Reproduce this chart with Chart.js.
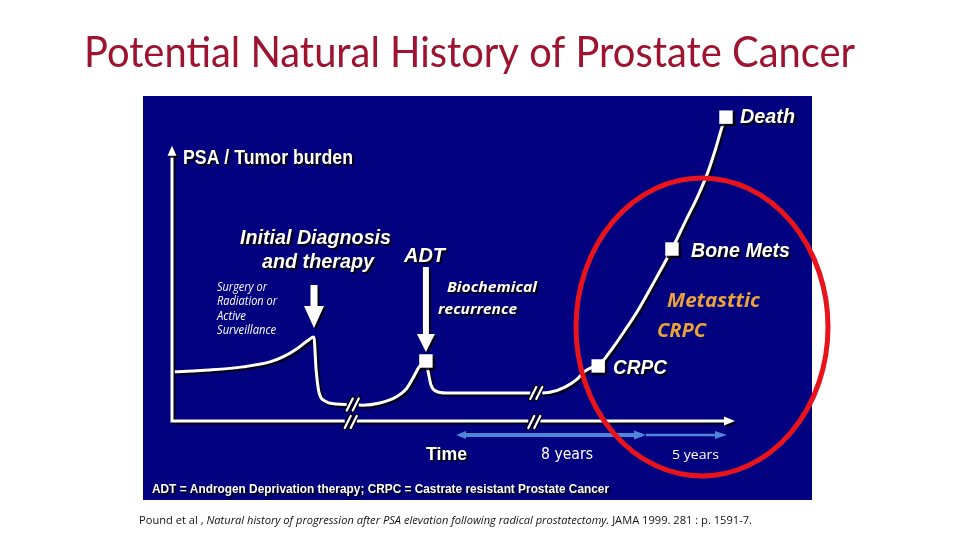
<!DOCTYPE html>
<html>
<head>
<meta charset="utf-8">
<script src="https://cdn.jsdelivr.net/npm/chart.js@4.4.1/dist/chart.umd.min.js"></script>
<style>
  html, body { margin: 0; padding: 0; background: #fff; }
  #wrap { width: 960px; height: 540px; }
</style>
</head>
<body>
<div id="wrap"><canvas id="chart" width="960" height="540"></canvas></div>
<script>
// curve: time (arbitrary units 0-100) vs PSA / tumor burden (arbitrary 0-100)
const timeX = [0.5, 6.7, 12.6, 17.4, 19.7, 22.4, 24.2, 25.2, 25.6, 26.1, 27.2, 29.1, 31.6,
  33.9, 36.9, 39.8, 41.6, 42.8, 43.9, 45.1, 45.5, 46.0, 46.9, 48.7, 54.7, 65.0,
  67.3, 69.8, 71.8, 73.2, 74.3, 75.7, 78.0, 80.5, 82.8, 85.8, 88.8, 91.3, 93.4, 95.2, 96.6, 97.7, 98.4];
const psaY = [15.8, 16.4, 17.4, 19.0, 20.6, 23.5, 26.0, 27.0, 16.4, 9.3, 6.4, 5.5, 5.3,
  5.1, 5.8, 7.7, 10.3, 13.8, 17.4, 19.3, 15.8, 11.6, 9.6, 9.0, 9.0, 9.0,
  9.3, 10.9, 13.2, 15.8, 17.0, 17.7, 22.8, 29.3, 35.7, 45.3, 55.3, 64.6, 72.3, 80.1, 87.8, 94.5, 97.7];

// events marked with squares
const eventLabels = ["ADT", "CRPC", "Bone Mets", "Death"];
const eventX = [45.1, 75.7, 88.8, 98.4];
const eventY = [19.3, 17.7, 55.3, 97.7];

// axis breaks (//) on curve and time axis
const breakX = [32.1, 64.7];
const breakY = [5.3, 9.0];

const NAVY = "#020281";

function fitText(ctx, segs, x, y, width, color, shadow) {
  ctx.save();
  let total = 0;
  segs.forEach(s => { ctx.font = s[1]; total += ctx.measureText(s[0]).width; });
  const k = width ? width / total : 1;
  ctx.translate(x, y);
  ctx.scale(k, 1);
  ctx.fillStyle = color;
  ctx.textBaseline = "alphabetic";
  ctx.textAlign = "left";
  if (shadow) {
    ctx.shadowColor = "rgba(0,0,0,0.9)";
    ctx.shadowOffsetX = 2;
    ctx.shadowOffsetY = 2;
    ctx.shadowBlur = 1;
  }
  let cx = 0;
  segs.forEach(s => {
    ctx.font = s[1];
    ctx.fillText(s[0], cx, 0);
    cx += ctx.measureText(s[0]).width;
  });
  ctx.restore();
}

function downArrow(ctx, x, y0, y1, shaftW, headW, headH) {
  ctx.beginPath();
  ctx.moveTo(x - shaftW / 2, y0);
  ctx.lineTo(x + shaftW / 2, y0);
  ctx.lineTo(x + shaftW / 2, y1 - headH);
  ctx.lineTo(x + headW / 2, y1 - headH);
  ctx.lineTo(x, y1);
  ctx.lineTo(x - headW / 2, y1 - headH);
  ctx.lineTo(x - shaftW / 2, y1 - headH);
  ctx.closePath();
  ctx.fill();
}

function breakMark(ctx, px, py) {
  ctx.save();
  ctx.fillStyle = NAVY;
  ctx.fillRect(px - 6, py - 3, 12, 6);
  [-3, 3].forEach(dx => {
    ctx.beginPath();
    ctx.moveTo(px + dx - 3, py + 6);
    ctx.lineTo(px + dx + 3, py - 6);
    ctx.lineCap = "round";
    ctx.strokeStyle = "#000";
    ctx.lineWidth = 4.5;
    ctx.stroke();
    ctx.strokeStyle = "#fff";
    ctx.lineWidth = 2.2;
    ctx.stroke();
  });
  ctx.restore();
}

const backdrop = {
  id: "backdrop",
  beforeDraw(chart) {
    const ctx = chart.ctx;
    ctx.save();
    ctx.fillStyle = "#fff";
    ctx.fillRect(0, 0, chart.width, chart.height);
    ctx.fillStyle = NAVY;
    ctx.fillRect(143, 96, 669, 404);
    ctx.restore();
  },
  beforeDatasetsDraw(chart) {
    const ctx = chart.ctx;
    const xs = chart.scales.x, ys = chart.scales.y;
    const x0 = xs.getPixelForValue(0), y0 = ys.getPixelForValue(0);
    const xEnd = xs.getPixelForValue(100), yTop = ys.getPixelForValue(88.5);
    ctx.save();
    ctx.shadowColor = "rgba(0,0,0,0.85)";
    ctx.shadowOffsetX = 2;
    ctx.shadowOffsetY = 2;
    ctx.strokeStyle = "#fff";
    ctx.fillStyle = "#fff";
    ctx.lineWidth = 3;
    ctx.beginPath();
    ctx.moveTo(x0, yTop + 6);
    ctx.lineTo(x0, y0);
    ctx.lineTo(xEnd - 8, y0);
    ctx.stroke();
    ctx.beginPath();
    ctx.moveTo(x0, yTop);
    ctx.lineTo(x0 + 4.5, yTop + 10);
    ctx.lineTo(x0 - 4.5, yTop + 10);
    ctx.closePath();
    ctx.fill();
    ctx.beginPath();
    ctx.moveTo(xEnd, y0);
    ctx.lineTo(xEnd - 11, y0 - 4.5);
    ctx.lineTo(xEnd - 11, y0 + 4.5);
    ctx.closePath();
    ctx.fill();
    ctx.restore();
  },
  beforeDatasetDraw(chart) {
    const ctx = chart.ctx;
    ctx.save();
    ctx.shadowColor = "rgba(0,0,0,0.85)";
    ctx.shadowOffsetX = 2;
    ctx.shadowOffsetY = 2;
    ctx.shadowBlur = 1;
  },
  afterDatasetDraw(chart) {
    chart.ctx.restore();
  },
  afterDatasetsDraw(chart) {
    const ctx = chart.ctx;
    const xs = chart.scales.x, ys = chart.scales.y;

    // breaks
    breakX.forEach((bx, i) => {
      breakMark(ctx, xs.getPixelForValue(bx), ys.getPixelForValue(breakY[i]));
      breakMark(ctx, xs.getPixelForValue(bx) - 2, ys.getPixelForValue(0) + 1);
    });

    // down arrows
    ctx.save();
    ctx.fillStyle = "#fff";
    ctx.shadowColor = "rgba(0,0,0,0.85)";
    ctx.shadowOffsetX = 2;
    ctx.shadowOffsetY = 2;
    downArrow(ctx, 314, 285, 328, 7, 20, 22);
    downArrow(ctx, xs.getPixelForValue(eventX[0]), 267, 352, 6, 18, 18);
    ctx.restore();

    const B = "bold 20px 'Liberation Sans', Arial, sans-serif";
    const BI = "italic bold 20px 'Liberation Sans', Arial, sans-serif";
    const SI = "italic 12px 'Open Sans', sans-serif";

    fitText(ctx, [["PSA / Tumor burden", B]], 183, 164, 170, "#fff", true);
    fitText(ctx, [["Initial Diagnosis", BI]], 240, 244, 151, "#fff", true);
    fitText(ctx, [["and therapy", BI]], 262, 268, 112, "#fff", true);
    fitText(ctx, [["ADT", BI]], 404, 262, 41, "#fff", true);

    fitText(ctx, [["Surgery or", SI]], 217, 291, 50, "#fff", false);
    fitText(ctx, [["Radiation or", SI]], 217, 305, 60, "#fff", false);
    fitText(ctx, [["Active", SI]], 217, 320, 29, "#fff", false);
    fitText(ctx, [["Surveillance", SI]], 217, 334, 59, "#fff", false);

    const BI15 = "italic bold 15px 'Open Sans', sans-serif";
    fitText(ctx, [["Biochemical", BI15]], 447, 292, 90, "#fff", true);
    fitText(ctx, [["recurrence", BI15]], 438, 314, 79, "#fff", true);

    fitText(ctx, [["Death", BI]], 740, 123, 55, "#fff", true);
    fitText(ctx, [["Bone Mets", BI]], 691, 257, 99, "#fff", true);
    fitText(ctx, [["CRPC", BI]], 613, 374, 54, "#fff", true);

    const OR = "italic bold 20px 'Open Sans', sans-serif";
    fitText(ctx, [["Metasttic", OR]], 667, 307, 93, "#eaa23a", false);
    fitText(ctx, [["CRPC", OR]], 657, 337, 49, "#eaa23a", false);

    fitText(ctx, [["Time", "bold 19px 'Liberation Sans', Arial, sans-serif"]], 426, 460, 41, "#fff", true);
    fitText(ctx, [["8 years", "15px 'DejaVu Sans', sans-serif"]], 541, 459, 52, "#fff", false);
    fitText(ctx, [["5 years", "13px 'Open Sans', sans-serif"]], 672, 459, 47, "#fff", false);

    fitText(ctx, [["ADT = Androgen Deprivation therapy; CRPC = Castrate resistant Prostate Cancer",
      "bold 13px 'Liberation Sans', Arial, sans-serif"]], 152, 493, 457, "#fff", true);

    // blue time-span arrows
    ctx.save();
    ctx.strokeStyle = "#4f86d6";
    ctx.fillStyle = "#4f86d6";
    ctx.lineWidth = 4;
    ctx.beginPath();
    ctx.moveTo(460, 435);
    ctx.lineTo(642, 435);
    ctx.stroke();
    ctx.beginPath();
    ctx.moveTo(456, 435); ctx.lineTo(466, 431); ctx.lineTo(466, 439); ctx.closePath(); ctx.fill();
    ctx.beginPath();
    ctx.moveTo(646, 435); ctx.lineTo(634, 430.5); ctx.lineTo(634, 439.5); ctx.closePath(); ctx.fill();
    ctx.lineWidth = 2.5;
    ctx.beginPath();
    ctx.moveTo(646, 435);
    ctx.lineTo(718, 435);
    ctx.stroke();
    ctx.beginPath();
    ctx.moveTo(727, 435); ctx.lineTo(715, 431); ctx.lineTo(715, 439); ctx.closePath(); ctx.fill();
    ctx.restore();

    // red ellipse
    ctx.save();
    ctx.strokeStyle = "#e8131b";
    ctx.lineWidth = 5;
    ctx.beginPath();
    ctx.ellipse(702, 327, 126, 149, 0, 0, Math.PI * 2);
    ctx.stroke();
    ctx.restore();

    // title and citation
    fitText(ctx, [["Potential Natural History of Prostate Cancer", "42px Lato, 'Open Sans', sans-serif"]],
      84, 67, 771, "#9e1330", false);
    const CN = "11px 'Open Sans', sans-serif";
    const CI = "italic 11px 'Open Sans', sans-serif";
    fitText(ctx, [["Pound et al , ", CN],
      ["Natural history of progression after PSA elevation following radical prostatectomy.", CI],
      [" JAMA 1999. 281 : p. 1591-7.", CN]], 139, 524, 613, "#111", false);
  }
};

new Chart(document.getElementById("chart"), {
  type: "line",
  data: {
    datasets: [
      {
        data: timeX.map((x, i) => ({ x, y: psaY[i] })),
        borderColor: "#fff",
        borderWidth: 3,
        pointRadius: 0,
        cubicInterpolationMode: "monotone",
        fill: false,
        clip: false,
        order: 2
      },
      {
        type: "scatter",
        label: "events",
        data: eventX.map((x, i) => ({ x, y: eventY[i], label: eventLabels[i] })),
        pointStyle: "rect",
        pointRadius: 9.5,
        backgroundColor: "#fff",
        borderColor: "#fff",
        borderWidth: 0,
        clip: false,
        order: 1
      }
    ]
  },
  options: {
    responsive: false,
    animation: false,
    events: [],
    layout: { padding: { left: 172, right: 225, top: 110, bottom: 119 } },
    plugins: { legend: { display: false }, tooltip: { enabled: false } },
    scales: {
      x: { type: "linear", min: 0, max: 100, display: false },
      y: { type: "linear", min: 0, max: 100, display: false }
    }
  },
  plugins: [backdrop]
});
</script>
</body>
</html>
